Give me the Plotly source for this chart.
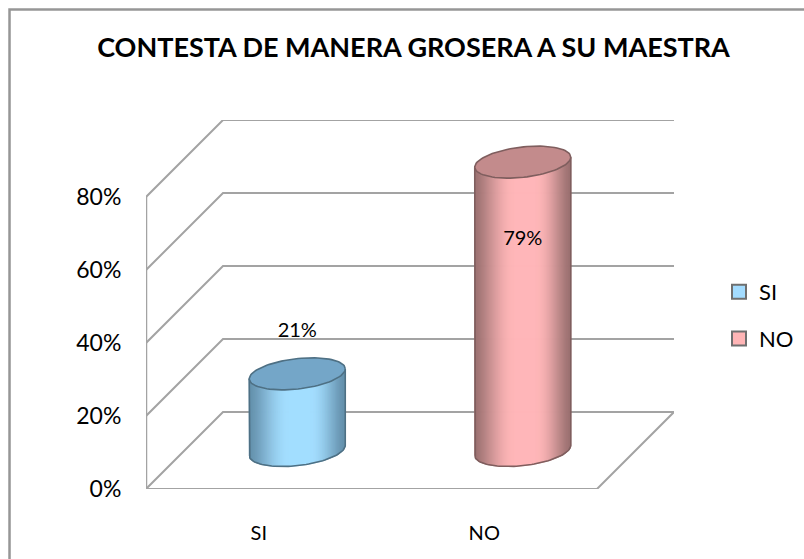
import numpy as np
import plotly.graph_objects as go

categories = ["SI", "NO"]
values = [21, 79]
labels = ["21%", "79%"]
y_ticks = [0, 20, 40, 60, 80]
y_tick_text = ["0%", "20%", "40%", "60%", "80%"]
title_text = "CONTESTA DE MANERA GROSERA A SU MAESTRA"

# Plot geometry in pixels
W, H = 804, 559
PX_L, PX_R, PX_T, PX_B = 146, 674, 120, 489
PLOT_W, PLOT_H = PX_R - PX_L, PX_B - PX_T
FLOOR_W = 451
DEPTH = 77
PX_PER_X = FLOOR_W / 2
PX_PER_Y = 73 / 20
DX = DEPTH / PX_PER_X
DY = DEPTH / PX_PER_Y
X0, X1 = -0.5, 1.5
R_X = 48 / PX_PER_X
R_Y = 16 / PX_PER_Y
PHI = 0.318

SIDE = [((100, 144, 172), (163, 222, 255)), ((156, 113, 113), (255, 182, 184))]
TOP = ["#74a6c8", "#c38b8c"]
EDGE = ["#4e7084", "#7f5e5e"]
LEG = ["#a3dcff", "#ffb5b6"]
GRID = "#a3a3a3"
LABEL_OFFSET = [11.5, -21.4]

fig = go.Figure()


def line(xs, ys, color=GRID, width=2):
    fig.add_trace(go.Scatter(x=xs, y=ys, mode="lines", showlegend=False, hoverinfo="skip",
                             line=dict(color=color, width=width)))


# Walls, floor, gridlines
line([X0, X0], [y_ticks[0], y_ticks[-1]], width=2.5)
line([X0, X1, X1 + DX, X0 + DX, X0], [0, 0, DY, DY, 0])
for t in y_ticks[1:]:
    line([X0, X0 + DX, X1 + DX], [t, t + DY, t + DY])


def rim(cx, cy, ts):
    return cx + R_X * np.cos(ts), cy + R_Y * np.sin(ts + PHI)


for i, (cat, v) in enumerate(zip(categories, values)):
    cx = i + DX / 2
    base = DY / 2
    top = v + DY / 2
    # gradient body, strips follow the front arc of the cylinder
    n = 96
    u = np.linspace(-1, 1, n + 1)
    ts = 2 * np.pi - np.arccos(u)
    xs, ys_off = rim(0, 0, ts)
    dark, light = SIDE[i]
    for j in range(n):
        f = (j + 0.5) / n
        s = min(1, f / 0.42, (1 - f) / 0.36)
        s = s * s * (3 - 2 * s)
        s = s ** 0.75
        c = tuple(int(dark[k] + (light[k] - dark[k]) * s) for k in range(3))
        col = "rgb(%d,%d,%d)" % c
        a, b = xs[j] + cx, xs[j + 1] + cx
        px = [a, b, b, a, a]
        py = [top + ys_off[j], top + ys_off[j + 1], base + ys_off[j + 1], base + ys_off[j], top + ys_off[j]]
        fig.add_trace(go.Scatter(x=px, y=py, mode="lines", fill="toself", fillcolor=col,
                                 line=dict(color=col, width=1), showlegend=False, hoverinfo="skip"))
    # body outline
    tl = np.linspace(np.pi, 2 * np.pi, 60)
    bx, by = rim(cx, base, tl)
    line([cx - R_X] + list(bx) + [cx + R_X],
         [top + R_Y * np.sin(np.pi + PHI)] + list(by) + [top + R_Y * np.sin(2 * np.pi + PHI)],
         color=EDGE[i], width=1.6)
    # top ellipse
    ta = np.linspace(0, 2 * np.pi, 90)
    ex, ey = rim(cx, top, ta)
    fig.add_trace(go.Scatter(x=ex, y=ey, mode="lines", fill="toself", fillcolor=TOP[i],
                             line=dict(color=EDGE[i], width=1.6), showlegend=False, hoverinfo="skip"))

# Legend entries
for i, cat in enumerate(categories):
    fig.add_trace(go.Scatter(x=[None], y=[None], mode="markers", name=cat, legendgroup=cat,
                             marker=dict(symbol="square", size=14, color=LEG[i],
                                         line=dict(color="#6f6f6f", width=2))))

# Data labels
fig.add_trace(go.Scatter(x=[i + DX / 2 for i in range(2)],
                         y=[v + DY / 2 + o for v, o in zip(values, LABEL_OFFSET)],
                         mode="text", text=labels, showlegend=False, hoverinfo="skip",
                         textfont=dict(family="Lato", size=20, color="#000000")))

fig.update_layout(
    width=W, height=H, autosize=False,
    margin=dict(l=PX_L, r=W - PX_R, t=PX_T, b=H - PX_B, pad=0, autoexpand=False),
    paper_bgcolor="white", plot_bgcolor="white",
    font=dict(family="Lato", size=20, color="#000000"),
    title=dict(text="<b>%s</b>" % title_text, x=413.5 / W, xanchor="center", y=1 - 48 / H, yanchor="middle",
               font=dict(family="Lato", size=27, color="#000000")),
    xaxis=dict(range=[X0, X1 + DX], tickvals=[0, 1], ticktext=categories, showgrid=False, zeroline=False,
               showline=False, ticks="outside", ticklen=26, tickcolor="rgba(0,0,0,0)",
               tickfont=dict(family="Lato", size=20)),
    yaxis=dict(range=[0, y_ticks[-1] + DY], tickvals=y_ticks, ticktext=y_tick_text, showgrid=False, zeroline=False,
               showline=False, ticks="outside", ticklen=19, tickcolor="rgba(0,0,0,0)",
               tickfont=dict(family="Lato", size=23)),
    legend=dict(x=(719 - PX_L) / PLOT_W, y=(PX_B - 315.5) / PLOT_H, xanchor="left", yanchor="middle",
                tracegroupgap=15, font=dict(family="Lato", size=22), bgcolor="rgba(0,0,0,0)"),
    shapes=[dict(type="path", xref="paper", yref="paper", layer="below",
                 path="M %.4f %.4f L %.4f %.4f L %.4f %.4f" % (
                     (9.5 - PX_L) / PLOT_W, (PX_B - H) / PLOT_H,
                     (9.5 - PX_L) / PLOT_W, (PX_B - 9.5) / PLOT_H,
                     (W - PX_L) / PLOT_W, (PX_B - 9.5) / PLOT_H),
                 line=dict(color="#969696", width=2.5))],
)

fig.write_html("out.html", config={"displayModeBar": False},
               post_script="document.body.style.margin='0';document.body.style.overflow='hidden';")
